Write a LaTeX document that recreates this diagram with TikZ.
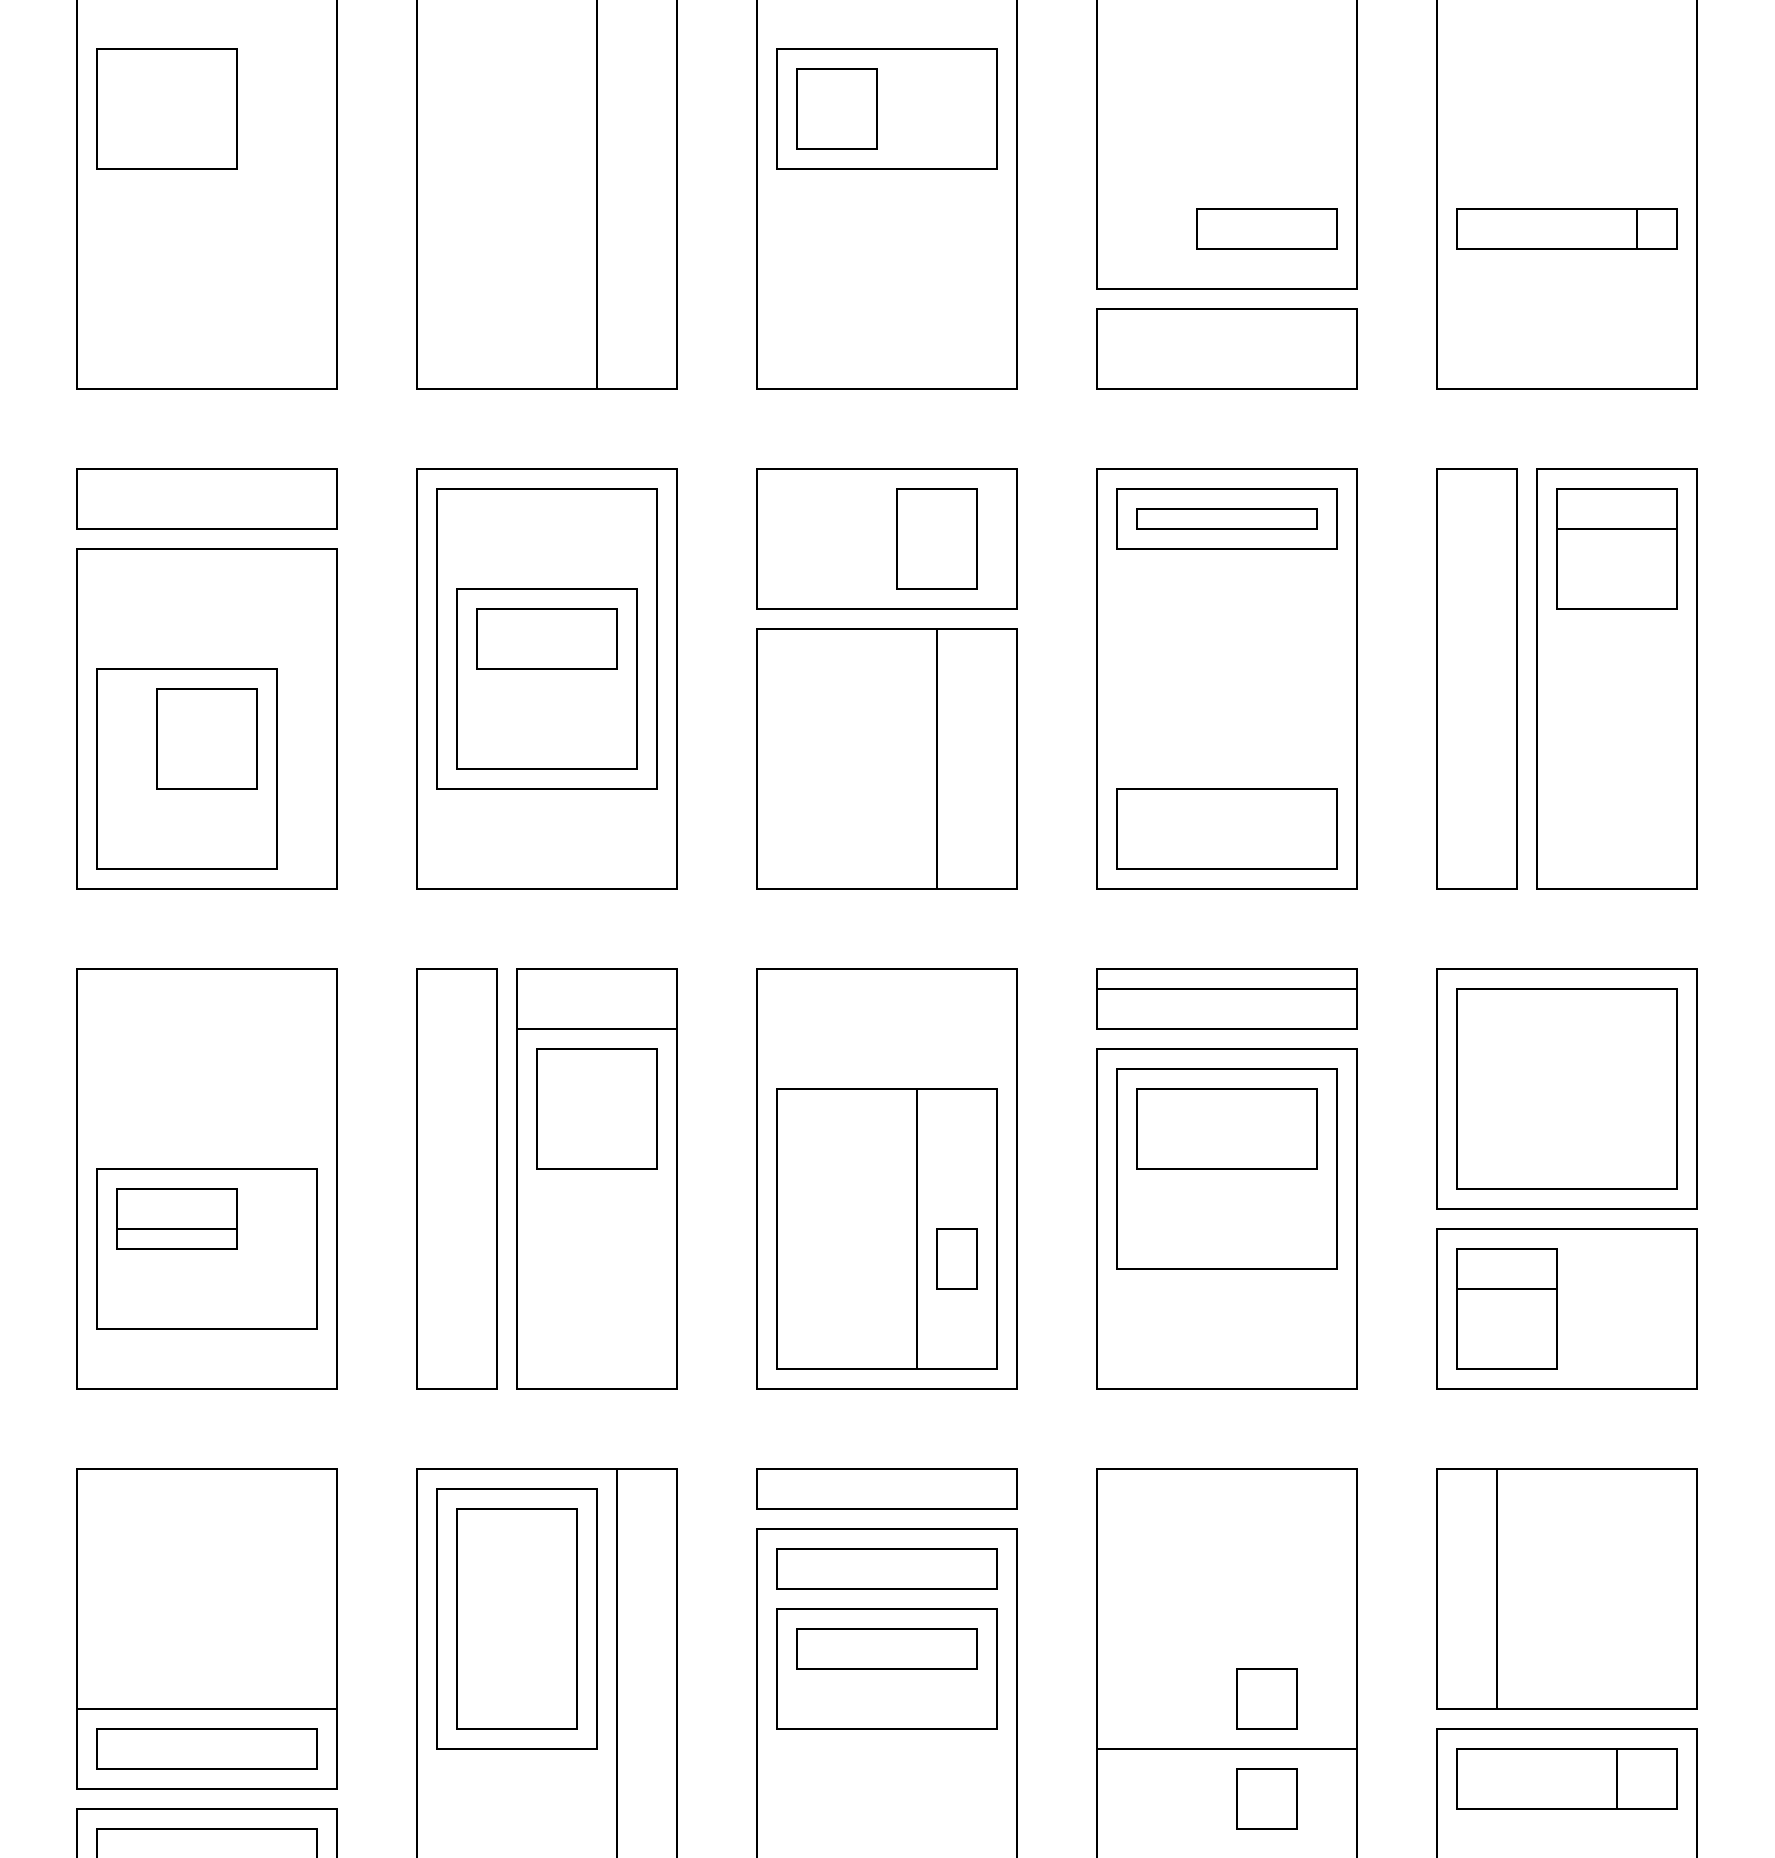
\documentclass[tikz,border=0pt]{standalone}
\begin{document}
\begin{tikzpicture}[x=0.2cm, y=-0.2cm, line width=0.55pt]
    \useasboundingbox (0,0) rectangle (88.7,92.9);
    \clip (0,0) rectangle (88.7,92.9);

    % Row 1
    \begin{scope}[shift={(3.85,-1.55)}]
        \draw (0,0) rectangle (13,21);
        \draw (1,4) rectangle (8,10);
    \end{scope}
    \begin{scope}[shift={(20.85,-1.55)}]
        \draw (0,0) rectangle (13,21);
        \draw (9,0) -- (9,21);
    \end{scope}
    \begin{scope}[shift={(37.85,-1.55)}]
        \draw (0,0) rectangle (13,21);
        \draw (1,4) rectangle (12,10);
        \draw (2,5) rectangle (6,9);
    \end{scope}
    \begin{scope}[shift={(54.85,-1.55)}]
        \draw (0,0) rectangle (13,16);
        \draw (5,12) rectangle (12,14);
        \draw (0,17) rectangle (13,21);
    \end{scope}
    \begin{scope}[shift={(71.85,-1.55)}]
        \draw (0,0) rectangle (13,21);
        \draw (1,12) rectangle (12,14);
        \draw (10,12) -- (10,14);
    \end{scope}

    % Row 2
    \begin{scope}[shift={(3.85,23.45)}]
        \draw (0,0) rectangle (13,3);
        \draw (0,4) rectangle (13,21);
        \draw (1,10) rectangle (10,20);
        \draw (4,11) rectangle (9,16);
    \end{scope}
    \begin{scope}[shift={(20.85,23.45)}]
        \draw (0,0) rectangle (13,21);
        \draw (1,1) rectangle (12,16);
        \draw (2,6) rectangle (11,15);
        \draw (3,7) rectangle (10,10);
    \end{scope}
    \begin{scope}[shift={(37.85,23.45)}]
        \draw (0,0) rectangle (13,7);
        \draw (7,1) rectangle (11,6);
        \draw (0,8) rectangle (13,21);
        \draw (9,8) -- (9,21);
    \end{scope}
    \begin{scope}[shift={(54.85,23.45)}]
        \draw (0,0) rectangle (13,21);
        \draw (1,1) rectangle (12,4);
        \draw (2,2) rectangle (11,3);
        \draw (1,16) rectangle (12,20);
    \end{scope}
    \begin{scope}[shift={(71.85,23.45)}]
        \draw (0,0) rectangle (4,21);
        \draw (5,0) rectangle (13,21);
        \draw (6,1) rectangle (12,7);
        \draw (6,3) -- (12,3);
    \end{scope}

    % Row 3
    \begin{scope}[shift={(3.85,48.45)}]
        \draw (0,0) rectangle (13,21);
        \draw (1,10) rectangle (12,18);
        \draw (2,11) rectangle (8,14);
        \draw (2,13) -- (8,13);
    \end{scope}
    \begin{scope}[shift={(20.85,48.45)}]
        \draw (0,0) rectangle (4,21);
        \draw (5,0) rectangle (13,21);
        \draw (5,3) -- (13,3);
        \draw (6,4) rectangle (12,10);
    \end{scope}
    \begin{scope}[shift={(37.85,48.45)}]
        \draw (0,0) rectangle (13,21);
        \draw (1,6) rectangle (12,20);
        \draw (8,6) -- (8,20);
        \draw (9,13) rectangle (11,16);
    \end{scope}
    \begin{scope}[shift={(54.85,48.45)}]
        \draw (0,0) rectangle (13,3);
        \draw (0,1) -- (13,1);
        \draw (0,4) rectangle (13,21);
        \draw (1,5) rectangle (12,15);
        \draw (2,6) rectangle (11,10);
    \end{scope}
    \begin{scope}[shift={(71.85,48.45)}]
        \draw (0,0) rectangle (13,12);
        \draw (1,1) rectangle (12,11);
        \draw (0,13) rectangle (13,21);
        \draw (1,14) rectangle (6,20);
        \draw (1,16) -- (6,16);
    \end{scope}

    % Row 4
    \begin{scope}[shift={(3.85,73.45)}]
        \draw (0,0) rectangle (13,16);
        \draw (0,12) -- (13,12);
        \draw (1,13) rectangle (12,15);
        \draw (0,17) rectangle (13,21);
        \draw (1,18) rectangle (12,20);
    \end{scope}
    \begin{scope}[shift={(20.85,73.45)}]
        \draw (0,0) rectangle (13,21);
        \draw (10,0) -- (10,21);
        \draw (1,1) rectangle (9,14);
        \draw (2,2) rectangle (8,13);
    \end{scope}
    \begin{scope}[shift={(37.85,73.45)}]
        \draw (0,0) rectangle (13,2);
        \draw (0,3) rectangle (13,21);
        \draw (1,4) rectangle (12,6);
        \draw (1,7) rectangle (12,13);
        \draw (2,8) rectangle (11,10);
    \end{scope}
    \begin{scope}[shift={(54.85,73.45)}]
        \draw (0,0) rectangle (13,21);
        \draw (0,14) -- (13,14);
        \draw (7,10) rectangle (10,13);
        \draw (7,15) rectangle (10,18);
    \end{scope}
    \begin{scope}[shift={(71.85,73.45)}]
        \draw (0,0) rectangle (13,12);
        \draw (3,0) -- (3,12);
        \draw (0,13) rectangle (13,21);
        \draw (1,14) rectangle (12,17);
        \draw (9,14) -- (9,17);
    \end{scope}

\end{tikzpicture}
\end{document}
